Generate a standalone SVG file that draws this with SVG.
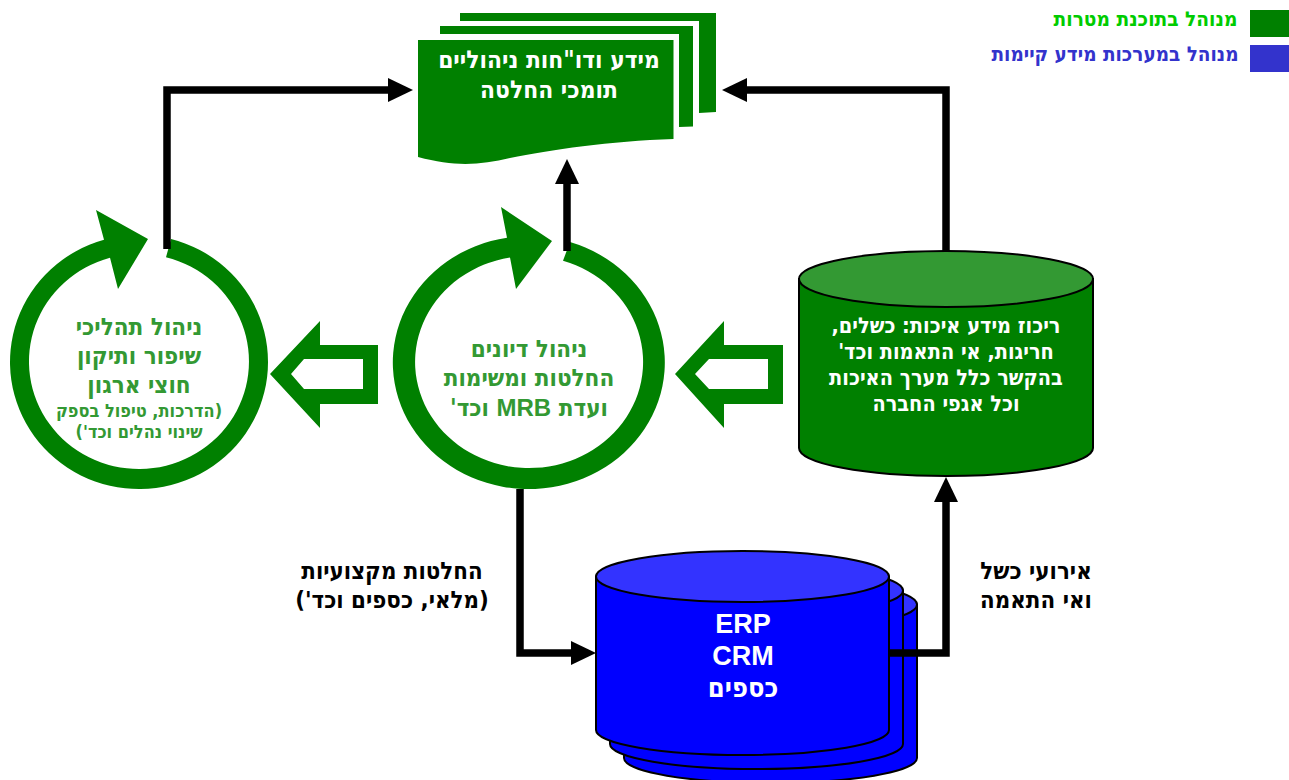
<svg xmlns="http://www.w3.org/2000/svg" width="1289" height="780" viewBox="0 0 1289 780">
<style>
text{font-family:"DejaVu Sans Condensed","DejaVu Sans",sans-serif;font-weight:bold;direction:rtl;text-anchor:middle}
.lat{font-family:"Liberation Sans",Arial,sans-serif}
.g{fill:#008000}
.w{fill:#fff}
.lg{fill:#339933}
.k{fill:#000}
.conn{fill:none;stroke:#000;stroke-width:7.5;marker-end:url(#ah)}
.body{stroke:#000;stroke-width:2}
</style>
<defs>
<marker id="ah" markerUnits="userSpaceOnUse" markerWidth="25" markerHeight="24" refX="1" refY="12" orient="auto"><path d="M0,0L25,12L0,24Z" fill="#000"/></marker>
<g id="cyl"><path class="body" d="M596,576.5V730A146.500,25 0 0 0 889,730V576.500Z" fill="#00f"/><ellipse class="body" cx="742.500" cy="576.500" rx="146.500" ry="25.500" fill="#33f"/></g>
</defs>
<g id="legend">
<rect x="1250" y="10" width="39" height="27" fill="#008000"/>
<rect x="1250" y="45" width="39" height="27" fill="#3333cc"/>
<text x="1145.500" y="26" font-size="20.700" fill="#00cc00">מנוהל בתוכנת מטרות</text>
<text x="1115" y="61" font-size="20.500" fill="#3333cc">מנוהל במערכות מידע קיימות</text>
</g>
<g id="doc">
<path class="g" d="M460,13H716V112L699,113V21H460Z"/>
<path class="g" d="M440,26H693V126.500L679,127V34H440Z"/>
<path class="g" d="M418,40H673.500V139C610,141 550,150 510,158C480,165 455,167 418,157Z"/>
<text class="w" x="549" y="68" font-size="24.300">מידע ודו"חות ניהוליים</text>
<text class="w" x="549" y="98" font-size="24.300">תומכי החלטה</text>
</g>
<g id="loop-left">
<path class="g" d="M171,239A129,127 0 1 1 104,239.800L96,210L148,239L118,289L110,257.800A110,107.500 0 1 0 166,257.300Z"/>
<text class="lg" x="139" y="335" font-size="24">ניהול תהליכי</text>
<text class="lg" x="139" y="364" font-size="24">שיפור ותיקון</text>
<text class="lg" x="139" y="393" font-size="24">חוצי ארגון</text>
<text class="lg" x="139" y="417" font-size="18">(הדרכות, טיפול בספק</text>
<text class="lg" x="139" y="438" font-size="18">שינוי נהלים וכד')</text>
</g>
<g id="loop-mid">
<path class="g" d="M570,242A136,126.500 0 1 1 507,237.700L501,207L552,241L516,289L510,257.500A114,106 0 1 0 563,260.800Z"/>
<text class="lg" x="529" y="357" font-size="24">ניהול דיונים</text>
<text class="lg" x="529" y="386" font-size="24">החלטות ומשימות</text>
<text class="lg" x="529" y="416" font-size="24">ועדת <tspan class="lat">MRB</tspan> וכד'</text>
</g>
<g id="arrow-left">
<path class="g" fill-rule="evenodd" d="M270,374L320,321V345H378V404H320V428ZM291,374L304,389H363V359H304Z"/>
</g>
<g id="arrow-mid">
<path class="g" fill-rule="evenodd" d="M675,374L724,321V345H783V404H724V428ZM695,374L709,389H768V359H709Z"/>
</g>
<g id="quality-db">
<path class="body" d="M799,279V448A147,28 0 0 0 1093,448V279Z" fill="#008000"/>
<ellipse class="body" cx="946" cy="279" rx="147" ry="28" fill="#339933"/>
<text class="w" x="946" y="333" font-size="21.500">ריכוז מידע איכות: כשלים,</text>
<text class="w" x="946" y="359" font-size="21.500">חריגות, אי התאמות וכד'</text>
<text class="w" x="946" y="385" font-size="21.500">בהקשר כלל מערך האיכות</text>
<text class="w" x="946" y="411" font-size="21.500">וכל אגפי החברה</text>
</g>
<g id="erp-db">
<use href="#cyl" x="28" y="28"/>
<use href="#cyl" x="14" y="14"/>
<use href="#cyl"/>
<text class="w lat" x="743" y="633" font-size="27">ERP</text>
<text class="w lat" x="743" y="665" font-size="27">CRM</text>
<text class="w" x="743" y="697" font-size="27">כספים</text>
</g>
<g id="connectors">
<path class="conn" d="M167,249V90H389"/>
<path class="conn" d="M567,251V183"/>
<path class="conn" d="M946,251V90H746"/>
<path class="conn" d="M520,489V653H572"/>
<path class="conn" d="M889,653H946V501"/>
</g>
<g id="labels">
<text class="k" x="392" y="579" font-size="23.800">החלטות מקצועיות</text>
<text class="k" x="392" y="608" font-size="23.800">(מלאי, כספים וכד')</text>
<text class="k" x="1036" y="579" font-size="23.800">אירועי כשל</text>
<text class="k" x="1036" y="608" font-size="23.800">ואי התאמה</text>
</g>
</svg>
